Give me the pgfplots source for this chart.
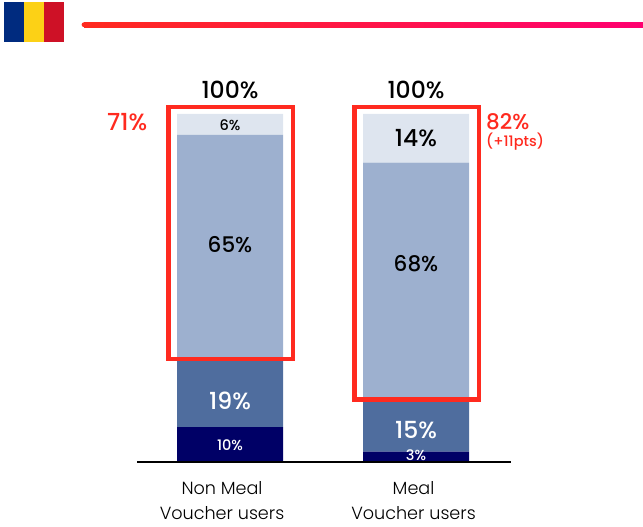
\documentclass[border=0pt]{standalone}
\usepackage{pgfplots}
\pgfplotsset{compat=1.18}
\usepackage{fontspec}
\setmainfont{Poppins}
\newfontfamily\valuefont{Poppins Medium}
\newfontfamily\catfont{Poppins Light}
\definecolor{barpale}{HTML}{DEE5EF}
\definecolor{barlight}{HTML}{9DB0CF}
\definecolor{barmid}{HTML}{4F6D9E}
\definecolor{bardark}{HTML}{000066}
\definecolor{accent}{HTML}{FF2A1F}
\definecolor{accentend}{HTML}{FF0070}
\definecolor{flagblue}{HTML}{002B7F}
\definecolor{flagyellow}{HTML}{FCD116}
\definecolor{flagred}{HTML}{CE1126}
\begin{document}
\begin{tikzpicture}[x=1pt,y=1pt]
\path[use as bounding box] (0,0) rectangle (643,527);
% flag and header rule
\fill[flagblue] (4,485) rectangle (24,525);
\fill[flagyellow] (24,485) rectangle (44,525);
\fill[flagred] (44,485) rectangle (64,525);
\fill[accent] (84,502.3) circle (2.4);
\shade[left color=accent,right color=accentend] (84,499.9) rectangle (643,504.7);
\begin{axis}[
  at={(0,0)},anchor=south west,
  width=643pt,height=527pt,scale only axis,hide axis,clip=false,
  xmin=-1.2366,xmax=2.2204,ymin=-18.678,ymax=132.76,
  ybar stacked,bar width=106pt,
  every axis plot/.append style={draw=none},
]
\addplot[fill=bardark] coordinates {(0,10) (1,3)};
\addplot[fill=barmid] coordinates {(0,19) (1,15)};
\addplot[fill=barlight] coordinates {(0,65) (1,68)};
\addplot[fill=barpale] coordinates {(0,6) (1,14)};
\end{axis}
\begin{axis}[
  at={(0,0)},anchor=south west,
  width=643pt,height=527pt,scale only axis,hide axis,clip=false,
  xmin=-1.2366,xmax=2.2204,ymin=-18.678,ymax=132.76,
]
% baseline
\addplot[black,line width=2pt,no marks] coordinates {(-0.5,0) (1.5108,0)};
% highlight frames
\addplot[accent,line width=4.4pt,no marks,line join=miter] coordinates {(-0.3306,102) (0.3387,102) (0.3387,29.6) (-0.3306,29.6) (-0.3306,102)} -- cycle;
\addplot[accent,line width=4.4pt,no marks,line join=miter] coordinates {(0.6683,102) (1.3371,102) (1.3371,18) (0.6683,18) (0.6683,102)} -- cycle;
% segment values
\tikzset{
  big/.style={font=\valuefont\fontsize{21.5}{24}\selectfont},
  bigger/.style={font=\valuefont\fontsize{23.5}{26}\selectfont},
  small/.style={font=\valuefont\fontsize{14.5}{16}\selectfont}}
\node[small,text=black] at (axis cs:0,96.8) {6\%};
\node[big,text=black] at (axis cs:0,62.6) {65\%};
\node[bigger,text=white] at (axis cs:0,17.5) {19\%};
\node[small,text=white] at (axis cs:0,4.8) {10\%};
\node[bigger,text=black] at (axis cs:1,93.1) {14\%};
\node[big,text=black] at (axis cs:1,56.9) {68\%};
\node[bigger,text=white] at (axis cs:1,9.2) {15\%};
\node[small,text=white] at (axis cs:1,1.87) {3\%};
% totals
\node[bigger,text=black] at (axis cs:0,106.9) {100\%};
\node[bigger,text=black] at (axis cs:1,106.9) {100\%};
% highlighted shares
\node[bigger,text=accent] at (axis cs:-0.553,97.7) {71\%};
\node[big,text=accent,anchor=west,inner sep=0pt] at (axis cs:1.376,97.7) {82\%};
\node[small,text=accent,anchor=west,inner sep=0pt] at (axis cs:1.376,92.1) {(+11pts)};
% category labels
\node[font=\catfont\fontsize{17.6}{25}\selectfont,align=center,text=black] at (axis cs:-0.043,-11) {Non Meal\\Voucher users};
\node[font=\catfont\fontsize{17.6}{25}\selectfont,align=center,text=black] at (axis cs:0.9866,-11) {Meal\\Voucher users};
\end{axis}
\end{tikzpicture}
\end{document}
